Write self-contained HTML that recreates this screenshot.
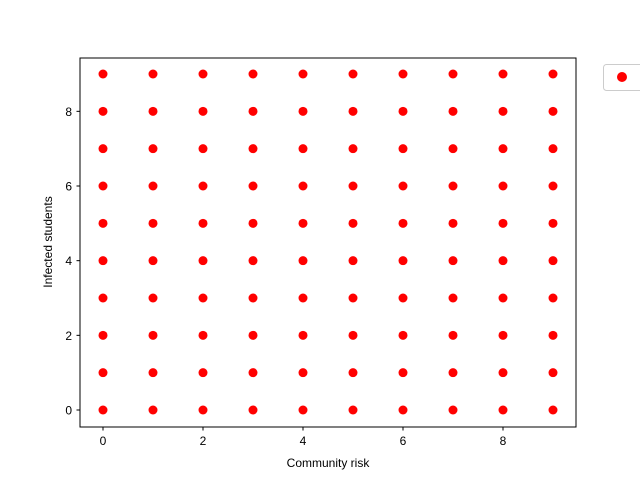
<!DOCTYPE html>
<html><head><meta charset="utf-8"><style>
body{margin:0;background:#fff}
text{font-family:"Liberation Sans","DejaVu Sans",sans-serif;font-size:12px;fill:#000}
</style></head><body>
<svg id="chart" width="640" height="480" xmlns="http://www.w3.org/2000/svg">
<rect x="80" y="58" width="496" height="369" fill="#fff" stroke="#000" stroke-width="1"/>
<g id="marks"></g><g id="axes"></g>
<text x="328" y="467" text-anchor="middle">Community risk</text>
<text transform="translate(52,242) rotate(-90)" text-anchor="middle">Infected students</text>
<rect x="603.5" y="64.5" width="45" height="26" rx="3" fill="#fff" stroke="#ccc"/>
<circle cx="622" cy="77" r="5" fill="red"/>
</svg>
<script>
const xValues=[0,1,2,3,4,5,6,7,8,9,0,1,2,3,4,5,6,7,8,9,0,1,2,3,4,5,6,7,8,9,0,1,2,3,4,5,6,7,8,9,0,1,2,3,4,5,6,7,8,9,0,1,2,3,4,5,6,7,8,9,0,1,2,3,4,5,6,7,8,9,0,1,2,3,4,5,6,7,8,9,0,1,2,3,4,5,6,7,8,9,0,1,2,3,4,5,6,7,8,9];
const yValues=[0,0,0,0,0,0,0,0,0,0,1,1,1,1,1,1,1,1,1,1,2,2,2,2,2,2,2,2,2,2,3,3,3,3,3,3,3,3,3,3,4,4,4,4,4,4,4,4,4,4,5,5,5,5,5,5,5,5,5,5,6,6,6,6,6,6,6,6,6,6,7,7,7,7,7,7,7,7,7,7,8,8,8,8,8,8,8,8,8,8,9,9,9,9,9,9,9,9,9,9];
const xTicks=[0,2,4,6,8];
const yTicks=[0,2,4,6,8];
const ns="http://www.w3.org/2000/svg";
const X=v=>103+v*50, Y=v=>410-v*(336/9);
const marks=document.getElementById('marks'), axes=document.getElementById('axes');
for(let i=0;i<xValues.length;i++){
  const c=document.createElementNS(ns,'circle');
  c.setAttribute('cx',X(xValues[i]));c.setAttribute('cy',Y(yValues[i]));c.setAttribute('r',4.5);c.setAttribute('fill','red');
  
  
  marks.appendChild(c);
}
xTicks.forEach(t=>{
  const l=document.createElementNS(ns,'line');
  l.setAttribute('x1',X(t));l.setAttribute('x2',X(t));l.setAttribute('y1',427);l.setAttribute('y2',430.5);l.setAttribute('stroke','#000');
  
  
  axes.appendChild(l);
  const tx=document.createElementNS(ns,'text');
  tx.setAttribute('x',X(t));tx.setAttribute('y',445);tx.setAttribute('text-anchor','middle');tx.textContent=t;
  
  
  axes.appendChild(tx);
});
yTicks.forEach(t=>{
  const l=document.createElementNS(ns,'line');
  l.setAttribute('x1',76.5);l.setAttribute('x2',80);l.setAttribute('y1',Y(t));l.setAttribute('y2',Y(t));l.setAttribute('stroke','#000');
  
  
  axes.appendChild(l);
  const tx=document.createElementNS(ns,'text');
  tx.setAttribute('x',72);tx.setAttribute('y',Y(t)+4.5);tx.setAttribute('text-anchor','end');tx.textContent=t;
  
  
  axes.appendChild(tx);
});
</script>
</body></html>
